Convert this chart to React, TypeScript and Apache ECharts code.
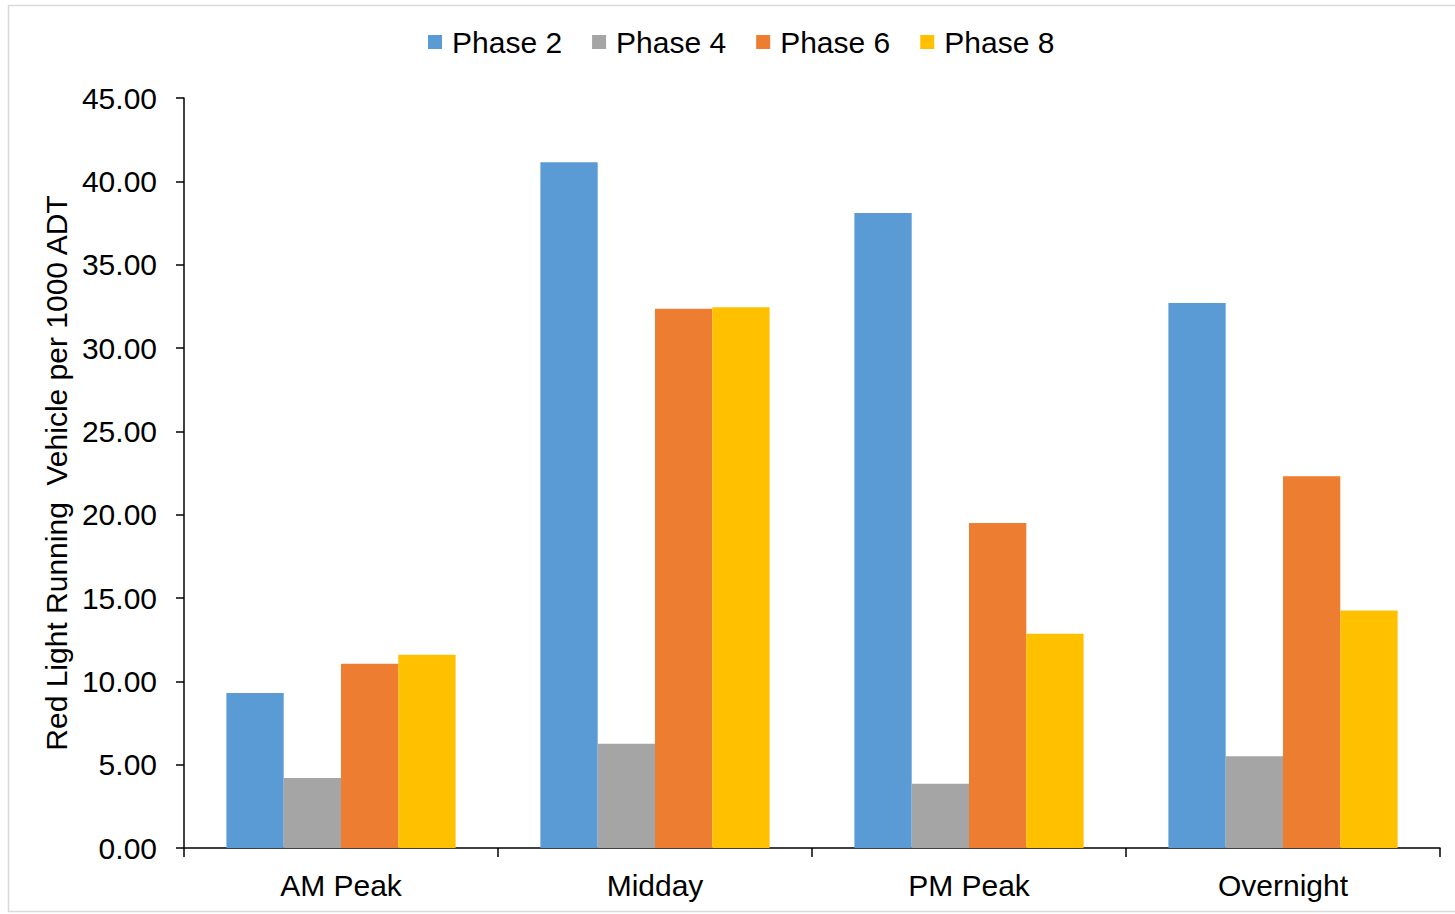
import React, { useEffect, useRef } from "react";
import * as echarts from "echarts";

const categories = ["AM Peak", "Midday", "PM Peak", "Overnight"];
const seriesNames = ["Phase 2", "Phase 4", "Phase 6", "Phase 8"];
const phase2 = [9.3, 41.15, 38.1, 32.7];
const phase4 = [4.2, 6.25, 3.85, 5.5];
const phase6 = [11.05, 32.35, 19.5, 22.3];
const phase8 = [11.6, 32.45, 12.85, 14.25];
const colors = ["#5B9BD5", "#A5A5A5", "#ED7D31", "#FFC000"];

const FONT = "Liberation Sans, Arial, sans-serif";

export default function App() {
  const ref = useRef<HTMLDivElement>(null);
  useEffect(() => {
    if (!ref.current) return;
    const chart = echarts.init(ref.current, undefined, { renderer: "svg" });
    const values = [phase2, phase4, phase6, phase8];
    chart.setOption({
      animation: false,
      color: colors,
      textStyle: { fontFamily: FONT },
      graphic: [
        {
          type: "rect",
          shape: { x: 8.5, y: 5.5, width: 1460, height: 906 },
          style: { fill: "none", stroke: "#d9d9d9", lineWidth: 1.5 },
          silent: true,
        },
      ],
      legend: {
        top: 22,
        left: 423,
        itemWidth: 14,
        itemHeight: 14,
        itemGap: 30,
        icon: "rect",
        data: seriesNames,
        textStyle: { fontSize: 30, color: "#000", fontFamily: FONT, padding: [0, 0, 0, 5] },
      },
      grid: { left: 184, right: 15, top: 98, bottom: 66, containLabel: false },
      xAxis: {
        type: "category",
        data: categories,
        axisLine: { lineStyle: { color: "#000", width: 1.5 } },
        axisTick: { show: true, length: 9, interval: 0, lineStyle: { color: "#000", width: 1.5 } },
        axisLabel: { fontSize: 30, color: "#000", margin: 22, fontFamily: FONT },
      },
      yAxis: {
        type: "value",
        min: 0,
        max: 45,
        interval: 5,
        name: "Red Light Running  Vehicle per 1000 ADT",
        nameLocation: "middle",
        nameGap: 112,
        nameRotate: 90,
        nameTextStyle: { fontSize: 30, color: "#000", fontFamily: FONT },
        axisLine: { show: true, lineStyle: { color: "#000", width: 1.5 } },
        axisTick: { show: true, length: 8, lineStyle: { color: "#000", width: 1.5 } },
        splitLine: { show: false },
        axisLabel: {
          fontSize: 30,
          color: "#000",
          margin: 27,
          fontFamily: FONT,
          formatter: (v: number) => v.toFixed(2),
        },
      },
      series: seriesNames.map((name, i) => ({
        name,
        type: "bar",
        data: values[i],
        barGap: "0%",
        barCategoryGap: "27%",
        itemStyle: { color: colors[i] },
      })),
    });
    return () => chart.dispose();
  }, []);
  return (
    <div
      ref={ref}
      style={{ position: "absolute", left: 0, top: 0, width: 1455, height: 914, background: "#fff" }}
    />
  );
}
